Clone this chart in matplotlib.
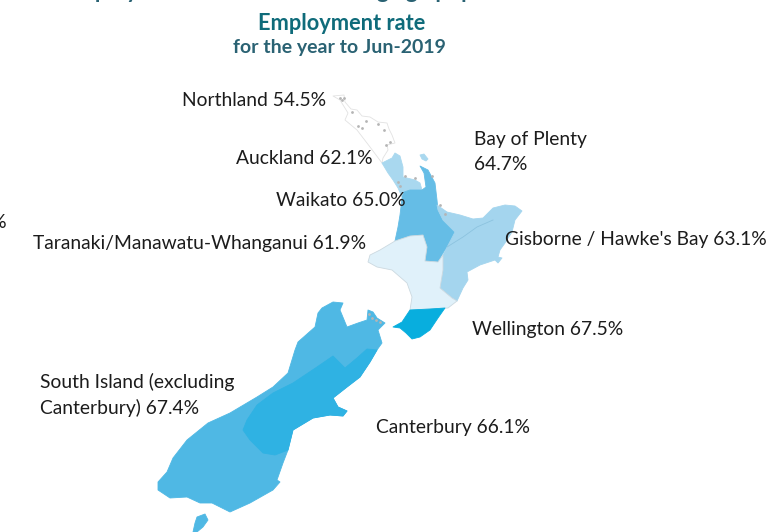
"""Employment rate by region, New Zealand, year to Jun-2019."""

import matplotlib

matplotlib.use("Agg")
import matplotlib.pyplot as plt

plt.rcParams["font.family"] = ["Lato", "DejaVu Sans"]

WIDTH, HEIGHT = 773, 532

TEAL = "#0f6b7a"
TEAL_SUB = "#2a6273"
TEXT = "#1c1c1c"

# outlines, in picture pixels
NORTHLAND = [(333, 96), (344, 95), (345, 102), (351, 109), (357, 110), (362, 116), (370, 117),
             (378, 122), (387, 123), (389, 129), (392, 135), (395, 143), (387, 145), (388, 150),
             (383, 158), (382, 163), (370, 147), (357, 130), (345, 120), (348, 113), (340, 100)]
AUCKLAND = [(382, 163), (392, 158), (395, 153), (400, 156), (403, 167), (403, 177), (415, 180),
            (420, 183), (422, 190), (410, 190), (404, 192), (402, 197), (398, 188), (393, 180),
            (388, 173)]
BARRIER = [(420, 155), (424, 154), (428, 159), (426, 161), (422, 159)]
WAIKATO = [(420, 166), (428, 170), (435, 183), (437, 200), (438, 210), (443, 220), (455, 232),
           (452, 240), (443, 253), (438, 262), (425, 261), (427, 247), (423, 235), (410, 236),
           (395, 241), (398, 227), (400, 215), (402, 198), (404, 192), (410, 190), (422, 190),
           (426, 187), (424, 173)]
BOP_GISBORNE = [(437, 205), (447, 212), (460, 215), (473, 219), (483, 218), (493, 208), (505, 205),
                (515, 206), (522, 211), (515, 220), (512, 232), (505, 243), (500, 250), (498, 257),
                (502, 258), (498, 263), (495, 260), (480, 265), (467, 272), (468, 280), (463, 288),
                (457, 301), (452, 298), (440, 288), (443, 270), (443, 255), (455, 232), (443, 220),
                (438, 210)]
BOP_BORDER = [(447, 247), (463, 237), (477, 227), (493, 220)]
TARANAKI = [(395, 241), (410, 236), (423, 235), (427, 247), (425, 261), (438, 262), (443, 255),
            (443, 270), (440, 288), (452, 298), (457, 301), (448, 308), (430, 309), (410, 310),
            (412, 297), (407, 283), (392, 270), (377, 267), (368, 262), (370, 255), (380, 250)]
WELLINGTON = [(410, 310), (430, 309), (445, 308), (438, 318), (430, 330), (420, 337), (412, 339),
              (406, 333), (400, 328), (393, 327), (402, 322)]
SOUTH_ISLAND = [(322, 308), (333, 302), (343, 303), (340, 310), (347, 327), (358, 323), (367, 320),
                (368, 310), (373, 312), (377, 318), (385, 323), (378, 330), (382, 343), (377, 350),
                (370, 362), (360, 377), (347, 387), (333, 398), (338, 407), (347, 411), (343, 416),
                (330, 415), (313, 418), (293, 430), (288, 450), (283, 463), (277, 480), (280, 482),
                (273, 490), (250, 503), (230, 512), (222, 508), (212, 503), (200, 503), (187, 497),
                (170, 498), (158, 490), (158, 482), (167, 472), (173, 458), (187, 440), (208, 423),
                (230, 413), (257, 397), (273, 387), (288, 373), (295, 350), (298, 342), (315, 327),
                (318, 313)]
STEWART = [(197, 517), (205, 514), (208, 520), (203, 527), (197, 532), (193, 532), (195, 523)]
CANTERBURY = [(377, 350), (370, 362), (360, 377), (347, 387), (333, 398), (338, 407), (347, 411),
              (343, 416), (330, 415), (313, 418), (293, 430), (288, 450), (275, 455), (263, 453),
              (250, 440), (243, 430), (247, 420), (257, 405), (273, 393), (293, 383), (317, 367),
              (333, 356), (345, 368), (357, 358), (367, 349)]

SHAPES = [NORTHLAND, AUCKLAND, BARRIER, WAIKATO, BOP_GISBORNE, TARANAKI, WELLINGTON,
          SOUTH_ISLAND, STEWART, CANTERBURY]
COLOURS = ["#ffffff", "#a9d8ef", "#a9d8ef", "#65bde6", "#a4d5ee", "#e0f1fa", "#08aede",
           "#4fb8e4", "#4fb8e4", "#2fb2e3"]
EDGES = ["#e2e2e2", "#a9d8ef", "#a9d8ef", "#65bde6", "#a4d5ee", "#ccd9e0", "#08aede",
         "#4fb8e4", "#4fb8e4", "#2fb2e3"]

ISLET_X = [340, 342, 352, 358, 366, 362, 378, 384, 390, 386, 344, 400, 415, 432, 440, 445,
           369, 372, 376, 380, 405, 398]
ISLET_Y = [98, 100, 112, 126, 121, 128, 124, 130, 142, 145, 98, 186, 178, 176, 205, 214,
           314, 318, 320, 322, 176, 182]

# label, rate, x, y of the text
LABELS = [
    ("Northland", "54.5%", 182, 100),
    ("Auckland", "62.1%", 236, 158),
    ("Waikato", "65.0%", 276, 200),
    ("Taranaki/Manawatu-Whanganui", "61.9%", 33, 244),
    ("Gisborne / Hawke's Bay", "63.1%", 505, 240),
    ("Wellington", "67.5%", 472, 329),
    ("Canterbury", "66.1%", 376, 427),
    ("Bay of Plenty\n", "64.7%", 474, 152),
    ("South Island (excluding\nCanterbury)", "67.4%", 40, 395),
]


def main() -> None:
    fig = plt.figure(figsize=(WIDTH / 100, HEIGHT / 100), dpi=100)
    ax = fig.add_axes([0, 0, 1, 1])
    ax.set_xlim(0, WIDTH)
    ax.set_ylim(HEIGHT, 0)
    ax.axis("off")

    for shape, colour, edge in zip(SHAPES, COLOURS, EDGES):
        xs, ys = zip(*shape)
        ax.fill(xs, ys, facecolor=colour, edgecolor=edge, linewidth=0.6, joinstyle="round")
    xs, ys = zip(*BOP_BORDER)
    ax.plot(xs, ys, color="#8cc3df", linewidth=0.6)
    ax.scatter(ISLET_X, ISLET_Y, s=4, color="#b5b5b5", linewidths=0)

    # the reference cuts this title off at the top edge, only descenders show
    ax.text(303, -2, "Employment rate of the working age population", ha="center", va="baseline",
            fontsize=16.3, fontweight="bold", color=TEAL_SUB)
    ax.text(342, 23, "Employment rate", ha="center", va="center", fontsize=15.7,
            fontweight="bold", color=TEAL)
    ax.text(339, 47, "for the year to Jun-2019", ha="center", va="center", fontsize=14,
            fontweight="bold", color=TEAL_SUB)

    for name, rate, x, y in LABELS:
        sep = "" if name.endswith("\n") else " "
        ax.text(x, y, f"{name}{sep}{rate}", ha="left", va="center", fontsize=13.9, color=TEXT,
                linespacing=1.52)
    ax.text(-10, 222, "%", ha="left", va="center", fontsize=14, color=TEXT)

    fig.savefig("out.png", dpi=100)
    plt.close(fig)


if __name__ == "__main__":
    main()
